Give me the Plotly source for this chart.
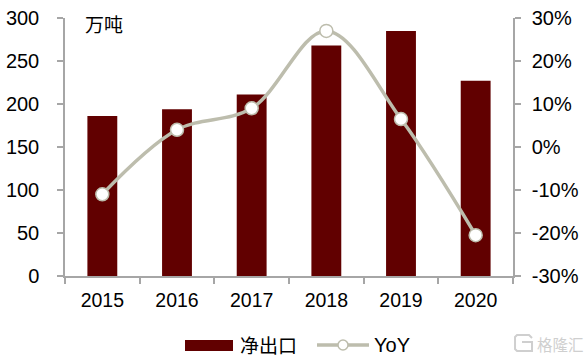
import plotly.graph_objects as go

years = ["2015", "2016", "2017", "2018", "2019", "2020"]
net_exports = [186, 194, 211, 268, 285, 227]
yoy = [-11, 4, 9, 27, 6.5, -20.5]
left_ticks = [0, 50, 100, 150, 200, 250, 300]
right_ticks = [-30, -20, -10, 0, 10, 20, 30]
right_labels = ["-30%", "-20%", "-10%", "0%", "10%", "20%", "30%"]

W, H = 588, 360
L, R, T, B = 65, 513, 18, 276
FONT = "Liberation Sans, Arial, Noto Sans CJK SC, sans-serif"
BAR = "#610000"
LINE = "#BDBDAD"
AXIS = "#A6A6A6"
WM = "#CFCFCF"

def px(x):
    return x / W

def py(y):
    return 1 - y / H

icon_pts = [(532, 338), (529, 335), (517, 335), (515, 337), (515, 349), (517, 351), (532, 351), (532, 342), (522, 342)]
icon_path = "M " + " L ".join(f"{px(a):.4f},{py(b):.4f}" for a, b in icon_pts)

fig = go.Figure()
fig.add_trace(go.Bar(x=years, y=net_exports, name="净出口", marker=dict(color=BAR, line=dict(width=0)),
                     width=0.4, yaxis="y", showlegend=False))
fig.add_trace(go.Scatter(x=years, y=yoy, name="YoY", yaxis="y2", mode="lines+markers", showlegend=False,
                         line=dict(color=LINE, width=3.5, shape="spline", smoothing=1.0),
                         marker=dict(size=13, color="white", line=dict(color=LINE, width=1.5))))

axis_common = dict(showgrid=False, zeroline=False, showline=True, linecolor=AXIS, linewidth=1.5,
                   automargin=False, ticks="outside", ticklen=6, tickwidth=1.5, tickcolor=AXIS,
                   tickfont=dict(family=FONT, size=20, color="#000000"))
fig.update_layout(
    template="none",
    width=W, height=H, autosize=False, margin=dict(l=0, r=0, t=0, b=0),
    paper_bgcolor="white", plot_bgcolor="white", showlegend=False, bargap=0.6,
    xaxis=dict(axis_common, type="category", tickson="boundaries", ticklabelstandoff=6,
               domain=[px(L), px(R)], anchor="y", tickfont=dict(family=FONT, size=19.5, color="#000000")),
    yaxis=dict(axis_common, domain=[py(B), py(T)], range=[0, 300], tickvals=left_ticks, ticklabelstandoff=14),
    yaxis2=dict(axis_common, domain=[py(B), py(T)], range=[-30, 30], tickvals=right_ticks, ticklabelstandoff=7,
                ticktext=right_labels, overlaying="y", side="right", anchor="x"),
    shapes=[
        dict(type="rect", xref="paper", yref="paper", x0=px(185), x1=px(233), y0=py(351), y1=py(340),
             fillcolor=BAR, line=dict(width=0)),
        dict(type="line", xref="paper", yref="paper", x0=px(317), x1=px(369), y0=py(345), y1=py(345),
             line=dict(color=LINE, width=3.5)),
        dict(type="circle", xref="paper", yref="paper", x0=px(338), x1=px(348), y0=py(350), y1=py(340),
             fillcolor="white", line=dict(color=LINE, width=1.5)),
        dict(type="path", xref="paper", yref="paper", path=icon_path, line=dict(color=WM, width=2)),
    ],
    annotations=[
        dict(text="万吨", xref="paper", yref="paper", x=px(83), y=py(24), xanchor="left", yanchor="middle",
             showarrow=False, font=dict(family="Noto Sans CJK SC", size=19, color="#000000")),
        dict(text="净出口", xref="paper", yref="paper", x=px(238), y=py(344), xanchor="left", yanchor="middle",
             showarrow=False, font=dict(family="Noto Sans CJK SC", size=19, color="#000000")),
        dict(text="YoY", xref="paper", yref="paper", x=px(372), y=py(345), xanchor="left", yanchor="middle",
             showarrow=False, font=dict(family=FONT, size=20, color="#000000")),
        dict(text="格隆汇", xref="paper", yref="paper", x=px(535), y=py(344), xanchor="left", yanchor="middle",
             showarrow=False, font=dict(family="Noto Sans CJK SC", size=15.5, color=WM)),
    ],
)
fig.write_html("out.html", config={"displayModeBar": False},
               post_script="document.body.style.margin='0';document.body.style.overflow='hidden';")
